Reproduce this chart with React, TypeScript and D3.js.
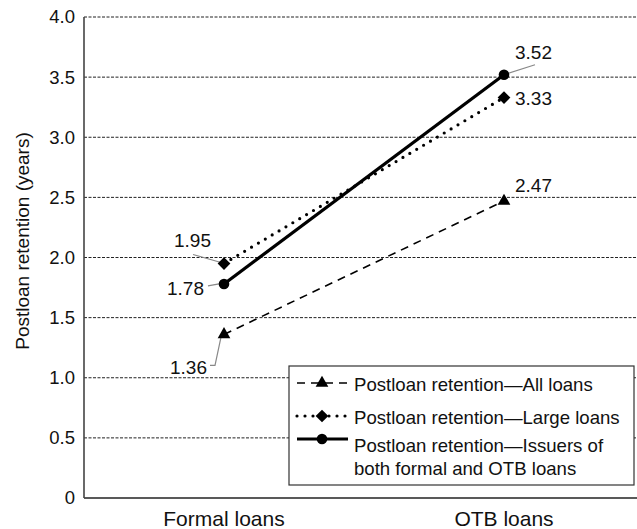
import React from "react";
import * as d3 from "d3";

const categories = ["Formal loans", "OTB loans"];
const allLoans = [1.36, 2.47];
const largeLoans = [1.95, 3.33];
const bothIssuers = [1.78, 3.52];
const yTicks = [0, 0.5, 1.0, 1.5, 2.0, 2.5, 3.0, 3.5, 4.0];
const legendLabels = [
  ["Postloan retention\u2014All loans"],
  ["Postloan retention\u2014Large loans"],
  ["Postloan retention\u2014Issuers of", "both formal and OTB loans"],
];

const W = 637;
const H = 529;
const FONT = "'Liberation Sans', Arial, Helvetica, sans-serif";

const x = d3.scalePoint<string>().domain(categories).range([84, 644]).padding(0.5);
const y = d3.scaleLinear().domain([0, 4]).range([498, 17]);

type Series = {
  values: number[];
  marker: "triangle" | "diamond" | "circle";
  width: number;
  dash?: string;
  cap?: string;
  labels: { dx: number; dy: number; leader?: [number, number][] }[];
};

const series: Series[] = [
  {
    values: allLoans,
    marker: "triangle",
    width: 1.6,
    dash: "8 6",
    labels: [
      { dx: -54, dy: 33, leader: [[-14, 31], [-9, 31], [-2, -2]] },
      { dx: 11, dy: -16 },
    ],
  },
  {
    values: largeLoans,
    marker: "diamond",
    width: 3.2,
    dash: "0 8",
    cap: "round",
    labels: [
      { dx: -50, dy: -23, leader: [[-31, -9], [-3, -1]] },
      { dx: 11, dy: 1 },
    ],
  },
  {
    values: bothIssuers,
    marker: "circle",
    width: 3.2,
    labels: [
      { dx: -57, dy: 4, leader: [[-16, 2], [-5, 0]] },
      { dx: 11, dy: -22, leader: [[31, -10], [3, -1]] },
    ],
  },
];

function Marker({ kind, cx, cy }: { kind: string; cx: number; cy: number }) {
  if (kind === "triangle") {
    const s = d3.symbol().type(d3.symbolTriangle).size(70)();
    return <path d={s || ""} transform={`translate(${cx},${cy})`} fill="#000" />;
  }
  if (kind === "diamond") {
    return (
      <rect x={-4.5} y={-4.5} width={9} height={9} fill="#000" transform={`translate(${cx},${cy}) rotate(45)`} />
    );
  }
  return <circle cx={cx} cy={cy} r={5.3} fill="#000" />;
}

export default function App() {
  const line = d3
    .line<number>()
    .x((_, i) => x(categories[i]) as number)
    .y((d) => y(d));

  const legendX = 289;
  const legendY = 366;
  const legendRows = [383, 416, 439];
  const legendTextRows = [[384], [417], [445, 468]];

  return (
    <svg width={W} height={H} style={{ position: "absolute", left: 0, top: 0, background: "#fff" }}>
      <rect x={0} y={0} width={W} height={H} fill="#fff" />
      {yTicks
        .filter((t) => t > 0)
        .map((t) => (
          <line key={t} x1={84} x2={W} y1={y(t)} y2={y(t)} stroke="#222" strokeWidth={1} strokeDasharray="3 1.5" />
        ))}
      <line x1={84} x2={W} y1={y(0)} y2={y(0)} stroke="#222" strokeWidth={1.6} />
      <line x1={84} x2={84} y1={y(4)} y2={y(0)} stroke="#444" strokeWidth={1.6} />
      {yTicks.map((t) => (
        <text key={t} x={75} y={y(t)} dy="0.35em" textAnchor="end" fontFamily={FONT} fontSize={18.5} fill="#111">
          {t === 0 ? "0" : t.toFixed(1)}
        </text>
      ))}
      <text
        transform={`translate(29,241) rotate(-90)`}
        textAnchor="middle"
        fontFamily={FONT}
        fontSize={19}
        fill="#111"
      >
        Postloan retention (years)
      </text>
      {categories.map((c) => (
        <text key={c} x={x(c)} y={526} textAnchor="middle" fontFamily={FONT} fontSize={21} fill="#111">
          {c}
        </text>
      ))}
      {series.map((s, si) => (
        <path
          key={si}
          d={line(s.values) || ""}
          fill="none"
          stroke="#000"
          strokeWidth={s.width}
          strokeDasharray={s.dash}
          strokeLinecap={(s.cap as any) || "butt"}
        />
      ))}
      {series.map((s, si) =>
        s.values.map((v, i) => {
          const cx = x(categories[i]) as number;
          const cy = y(v);
          const lb = s.labels[i];
          return (
            <g key={`${si}-${i}`}>
              {lb.leader && (
                <polyline
                  points={lb.leader.map(([a, b]) => `${cx + a},${cy + b}`).join(" ")}
                  fill="none"
                  stroke="#888"
                  strokeWidth={1.2}
                />
              )}
              <Marker kind={s.marker} cx={cx} cy={cy} />
              <text x={cx + lb.dx} y={cy + lb.dy} dy="0.35em" fontFamily={FONT} fontSize={19} fill="#111">
                {v.toFixed(2)}
              </text>
            </g>
          );
        })
      )}
      <rect x={legendX} y={legendY} width={345} height={119} fill="#fff" stroke="#333" strokeWidth={1.2} />
      {series.map((s, si) => {
        const ry = legendRows[si];
        return (
          <g key={si}>
            <line
              x1={297}
              x2={348}
              y1={ry}
              y2={ry}
              stroke="#000"
              strokeWidth={s.width}
              strokeDasharray={s.dash}
              strokeLinecap={(s.cap as any) || "butt"}
            />
            <Marker kind={s.marker} cx={322} cy={ry} />
            {legendLabels[si].map((t, li) => (
              <text
                key={li}
                x={354}
                y={legendTextRows[si][li]}
                dy="0.35em"
                fontFamily={FONT}
                fontSize={18.6}
                fill="#111"
              >
                {t}
              </text>
            ))}
          </g>
        );
      })}
    </svg>
  );
}
